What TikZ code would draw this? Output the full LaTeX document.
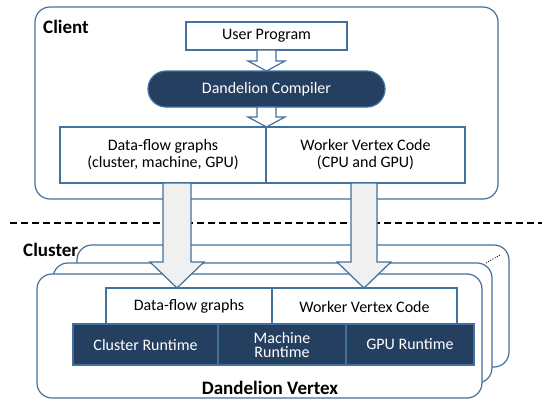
\documentclass[tikz,border=0pt]{standalone}
\usepackage{fontspec}
\setmainfont{Carlito}
\usetikzlibrary{positioning,calc,shapes.misc}

\definecolor{edgeblue}{HTML}{41719C}
\definecolor{navy}{HTML}{243F60}
\definecolor{arrowgray}{HTML}{F0F0F0}

\tikzstyle{box} = [draw=edgeblue,line width=1.2pt,fill=white,inner sep=0pt,outer sep=0pt,align=center,font=\fontsize{16}{17}\selectfont]
\tikzstyle{dark} = [box,fill=navy,text=white]
\tikzstyle{frame} = [draw=edgeblue,line width=1.2pt,fill=white,rounded corners=15pt,outer sep=0pt]
\tikzstyle{title} = [inner sep=0pt,font=\fontsize{19}{20}\selectfont\bfseries]
\tikzstyle{hollow} = [draw=edgeblue,line width=1.2pt,fill=white]
\tikzstyle{fat} = [draw=edgeblue,line width=1.2pt,fill=arrowgray]

% block arrow: style, from, to, x, half shaft, half head, head length
\newcommand{\blockarrow}[7]{%
  \draw[#1] let \p1=(#2), \p2=(#3) in
    (#4-#5,\y1) -- (#4-#5,\y2+#7) -- (#4-#6,\y2+#7) -- (#4,\y2)
    -- (#4+#6,\y2+#7) -- (#4+#5,\y2+#7) -- (#4+#5,\y1) -- cycle;}

\begin{document}
\begin{tikzpicture}[x=1pt,y=-1pt]
   \useasboundingbox (0,0) rectangle (542,400);

   % client side
   \node[frame,minimum width=463pt,minimum height=192pt] (client) at (266.5,103) {};
   \node[title,anchor=west] (clientlbl) at (43,27) {Client};
   \node[box,minimum width=161pt,minimum height=28pt] (prog) at (266.5,36) {User Program};
   \node[dark,rounded rectangle,minimum width=237pt,minimum height=36pt] (compiler) at (266.5,89) {Dandelion Compiler};
   \node[box,minimum width=206pt,minimum height=56pt] (graphs) at (163,155) {Data-flow graphs\\(cluster, machine, GPU)};
   \node[box,minimum width=199pt,minimum height=56pt,right=0pt of graphs] (code) {Worker Vertex Code\\(CPU and GPU)};

   \blockarrow{hollow}{prog.south}{compiler.north}{266.5pt}{9.5pt}{18.5pt}{10pt}
   \blockarrow{hollow}{compiler.south}{graphs.north -| prog.south}{266.5pt}{9.5pt}{18.5pt}{10pt}

   % boundary
   \coordinate (lineL) at (10,223);
   \coordinate (lineR) at (542,223);
   \draw[line width=1.5pt,dash pattern=on 7pt off 4pt] (lineL) -- (lineR);

   % cluster side
   \node[title,anchor=west] (clusterlbl) at (23,250) {Cluster};
   \node[frame,minimum width=432pt,minimum height=122pt] (back) at (293,306) {};
   \node[frame,minimum width=439pt,minimum height=120pt] (middle) at (272.5,323) {};
   \node[frame,minimum width=445pt,minimum height=124pt] (front) at (259.5,336) {};
   \coordinate (dotA) at (486,263);
   \coordinate (dotB) at (500,255);
   \draw[line width=0.8pt,dash pattern=on 1pt off 1.5pt] (dotA) -- (dotB);

   \node[box,minimum width=166pt,minimum height=37pt] (graphs2) at (189,306.5) {Data-flow graphs};
   \node[box,minimum width=185pt,minimum height=37pt,right=0pt of graphs2] (code2) {Worker Vertex Code};
   \node[dark,minimum width=145pt,minimum height=41pt] (crt) at (145.5,344.5) {Cluster Runtime};
   \node[dark,minimum width=128pt,minimum height=41pt,right=0pt of crt,font=\fontsize{16}{14}\selectfont] (mrt) {Machine\\Runtime};
   \node[dark,minimum width=128pt,minimum height=41pt,right=0pt of mrt] (grt) {GPU Runtime};
   \node[title] (vertexlbl) at (270,388) {Dandelion Vertex};

   \blockarrow{fat}{graphs.south}{graphs2.north}{177pt}{14pt}{27pt}{26pt}
   \blockarrow{fat}{code.south}{code2.north}{364pt}{13pt}{27pt}{26pt}
\end{tikzpicture}
\end{document}
